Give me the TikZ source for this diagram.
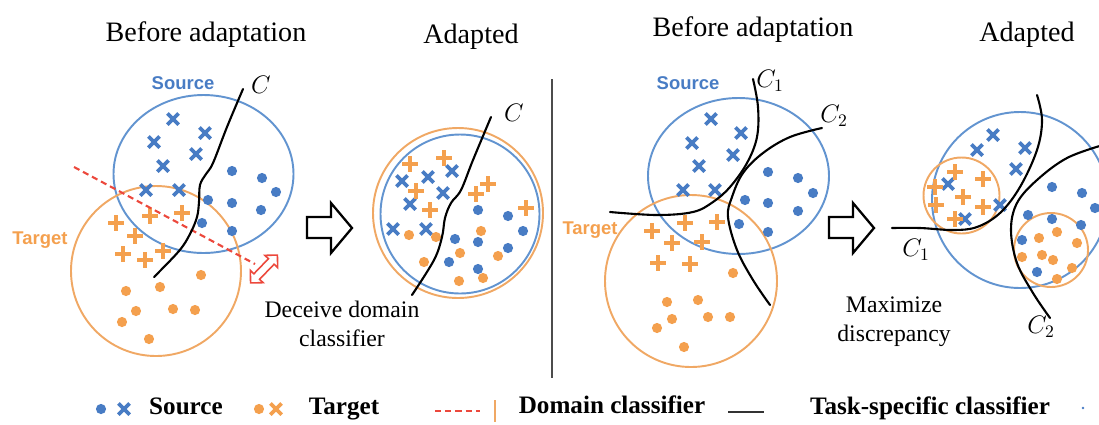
\documentclass[tikz,border=0pt]{standalone}
\usepackage{fontspec}
\setmainfont{Liberation Serif}
\setsansfont{Liberation Sans}
\usepackage{amsmath}
\usepackage{tikz}
\usetikzlibrary{shapes}
\definecolor{lineblue}{RGB}{98,148,208}
\definecolor{markblue}{RGB}{72,124,196}
\definecolor{lineorange}{RGB}{240,168,100}
\definecolor{markorange}{RGB}{244,160,78}
\definecolor{dashred}{RGB}{236,72,60}
\tikzstyle{regionline}=[line width=1.1pt]
\tikzstyle{clf}=[line width=1.2pt, black, line cap=round]
\tikzstyle{bdot}=[circle, fill=markblue, inner sep=0, minimum size=5.8pt]
\tikzstyle{odot}=[circle, fill=markorange, inner sep=0, minimum size=5.8pt]
\tikzstyle{bcross}=[cross out, draw=markblue, line width=2.1pt, inner sep=0, minimum size=4.3pt]
\tikzstyle{ocross}=[cross out, draw=markorange, line width=2.1pt, inner sep=0, minimum size=4.3pt]
\tikzstyle{oplus}=[cross out, rotate=45, draw=markorange, line width=2.1pt, inner sep=0, minimum size=4.2pt]
\tikzstyle{title}=[font=\fontsize{16}{19}\selectfont]
\tikzstyle{note}=[font=\fontsize{13.5}{16.5}\selectfont, align=center]
\tikzstyle{legend}=[font=\bfseries\fontsize{14.3}{17}\selectfont, anchor=base]
\tikzstyle{clabel}=[font=\fontsize{14}{17}\selectfont]
\tikzstyle{dlabel}=[font=\sffamily\bfseries\fontsize{10.5}{12}\selectfont]
\tikzstyle{blockarrow}=[line width=1.3pt, line join=miter]

\begin{document}
\begin{tikzpicture}[x=0.02cm, y=-0.02cm]

      \useasboundingbox (0,0) rectangle (1099,424);

      % titles
      \node[title] (title_before_a) at (206,35) {Before adaptation};
      \node[title] (title_adapted_a) at (471,37) {Adapted};
      \node[title] (title_before_b) at (753,30) {Before adaptation};
      \node[title] (title_adapted_b) at (1027,35) {Adapted};

      % ---- adversarial: before ----
      \draw[regionline, lineblue] (203.5,174) ellipse [x radius=90, y radius=79];
      \draw[regionline, lineorange] (156,271) circle [radius=85];
      \node[dlabel, text=markblue] (source_a) at (183,83) {Source};
      \node[dlabel, text=markorange] (target_a) at (40,240) {Target};

      \foreach \p in {(173,119),(205,133),(154,142),(196,154),(163,166),(146,190),(179,190)}
        \node[bcross] at \p {};
      \foreach \p in {(232,171),(262,178),(276,192),(208,200),(232,203),(261,210),(202,223),(232,231)}
        \node[bdot] at \p {};
      \foreach \p in {(116,223),(150,216),(182,213),(135,236),(123,254),(145,260),(163,251)}
        \node[oplus] at \p {};
      \foreach \p in {(201,275),(160,287),(126,291),(136,311),(173,309),(195,310),(122,322),(149,339)}
        \node[odot] at \p {};

      \draw[dashred, line width=1.2pt, dash pattern=on 3.5pt off 2.3pt] (74,167) -- (255,264);
      \node[double arrow, draw=dashred, line width=0.9pt, fill=white, rotate=46, minimum height=22pt, double arrow head extend=2.8pt, inner sep=1.8pt] (push_apart) at (264,269) {};

      \draw[clf] plot[smooth, tension=0.6] coordinates {(243,89) (227,127) (213,163) (206,174) (200,185) (199,202) (197,217) (190,234) (179,251) (154,277)};
      \node[clabel] (c_a) at (261,85) {$C$};

      \draw[blockarrow] (307,217) -- (331,217) -- (331,203) -- (352,228) -- (331,253) -- (331,238) -- (307,238) -- cycle;
      \node[note] (deceive) at (342,324) {Deceive domain\\classifier};

      % ---- adversarial: adapted ----
      \draw[regionline, lineorange] (458,213) circle [radius=85];
      \draw[regionline, lineblue] (460,214) circle [radius=79.5];

      \foreach \p in {(402,181),(428,177),(452,171),(443,193),(410,204),(393,229),(426,229)}
        \node[bcross] at \p {};
      \foreach \p in {(478,210),(508,216),(523,231),(455,239),(478,242),(508,248),(449,262),(478,269)}
        \node[bdot] at \p {};
      \foreach \p in {(410,164),(444,158),(416,191),(430,210),(476,194),(488,184),(526,208)}
        \node[oplus] at \p {};
      \foreach \p in {(409,235),(436,237),(481,231),(460,253),(498,256),(424,262),(459,281),(483,278)}
        \node[odot] at \p {};

      \draw[clf] plot[smooth, tension=0.6] coordinates {(491,117) (473,160) (461,190) (451,203) (445,218) (442,237) (434,260) (412,295)};
      \node[clabel] (c_b) at (514,113) {$C$};

      % divider
      \draw[black!70, line width=1.1pt] (552,79) -- (552,378);

      % ---- discrepancy: before ----
      \draw[regionline, lineblue] (738.5,176) ellipse [x radius=90.5, y radius=78];
      \draw[regionline, lineorange] (691,281) circle [radius=86];
      \node[dlabel, text=markblue] (source_b) at (688,83) {Source};
      \node[dlabel, text=markorange] (target_b) at (590,230) {Target};

      \foreach \p in {(711,119),(741,133),(692,143),(733,155),(699,166),(683,190),(715,190)}
        \node[bcross] at \p {};
      \foreach \p in {(768,172),(798,178),(813,193),(745,200),(768,203),(798,211),(739,224),(768,232)}
        \node[bdot] at \p {};
      \foreach \p in {(685,223),(717,222),(652,231),(672,243),(702,242),(658,263),(690,264)}
        \node[oplus] at \p {};
      \foreach \p in {(733,273),(667,302),(698,300),(672,319),(708,317),(730,317),(657,328),(684,347)}
        \node[odot] at \p {};

      \draw[clf] plot[smooth, tension=0.6] coordinates {(753,79) (758,107) (757,137) (747,163) (730,187) (713,202) (693,212) (657,215) (610,212)};
      \draw[clf] plot[smooth, tension=0.6] coordinates {(822,128) (790,137) (763,153) (743,173) (732,197) (728,217) (737,250) (753,280) (770,305)};
      \node[clabel] (c1_b) at (770,81) {$C_1$};
      \node[clabel] (c2_b) at (834,116) {$C_2$};

      \draw[blockarrow] (829,217) -- (853,217) -- (853,203) -- (874,228) -- (853,253) -- (853,238) -- (829,238) -- cycle;
      \node[note] (maximize) at (894,322) {Maximize\\discrepancy};

      % ---- discrepancy: adapted ----
      \draw[regionline, lineblue] (1020,200) circle [radius=88];
      \draw[regionline, lineorange] (961.5,195.5) circle [radius=38];
      \draw[regionline, lineorange] (1051,250) circle [radius=37];

      \foreach \p in {(993,135),(977,150),(1025,148),(1016,169),(948,184),(965,219),(1000,205)}
        \node[bcross] at \p {};
      \foreach \p in {(1052,187),(1082,193),(1095,208),(1028,215),(1052,219),(1081,225),(1022,240),(1037,272)}
        \node[bdot] at \p {};
      \foreach \p in {(955,172),(983,179),(935,187),(963,197),(936,205),(983,207),(955,219)}
        \node[oplus] at \p {};
      \foreach \p in {(1039,238),(1057,232),(1077,243),(1022,257),(1042,255),(1053,260),(1072,268),(1057,279)}
        \node[odot] at \p {};

      \draw[clf] plot[smooth, tension=0.6] coordinates {(892,228) (920,228) (953,230) (977,227) (1000,213) (1020,187) (1037,150) (1042,120) (1037,95)};
      \draw[clf] plot[smooth, tension=0.6] coordinates {(1103,145) (1067,158) (1037,180) (1017,203) (1011,230) (1017,263) (1033,293) (1050,318)};
      \node[clabel] (c1_c) at (916,250) {$C_1$};
      \node[clabel] (c2_c) at (1041,327) {$C_2$};

      % legend
      \node[bdot] (leg_bdot) at (101,409) {};
      \node[bcross] (leg_bcross) at (124,409) {};
      \node[legend] (leg_source) at (186,414) {Source};
      \node[odot] (leg_odot) at (259,409) {};
      \node[ocross] (leg_ocross) at (276,409) {};
      \node[legend] (leg_target) at (344,414) {Target};
      \draw[dashred, line width=1.2pt, dash pattern=on 3.5pt off 2.3pt] (435,411) -- (480,411);
      \draw[lineorange, line width=0.9pt] (495,400) -- (495,422);
      \node[legend] (leg_domain) at (612,413) {Domain classifier};
      \draw[black!80, line width=1.5pt] (728,412) -- (764,412);
      \node[legend] (leg_task) at (930,414) {Task-specific classifier};
      \node[circle, fill=markblue, inner sep=0, minimum size=1.5pt] (leg_tail) at (1083,408) {};

\end{tikzpicture}
\end{document}
